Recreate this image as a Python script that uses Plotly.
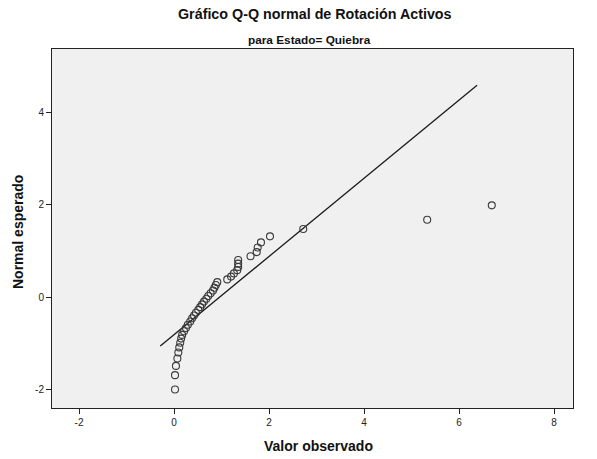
import plotly.graph_objects as go

observed = [0.02, 0.02, 0.04, 0.07, 0.09, 0.11, 0.13, 0.15, 0.17, 0.21,
            0.25, 0.29, 0.34, 0.38, 0.42, 0.46, 0.51, 0.55, 0.59, 0.63,
            0.68, 0.72, 0.77, 0.82, 0.85, 0.88, 0.91, 1.12, 1.20, 1.26,
            1.33, 1.35, 1.35, 1.35, 1.61, 1.74, 1.76, 1.83, 2.02, 2.72,
            5.33, 6.69]
# Expected normal values
expected = [-1.99, -1.68, -1.48, -1.32, -1.19, -1.08, -0.98, -0.89, -0.81, -0.73,
            -0.66, -0.59, -0.52, -0.45, -0.39, -0.33, -0.27, -0.21, -0.15, -0.09,
            -0.03, 0.03, 0.09, 0.15, 0.21, 0.27, 0.33, 0.39, 0.45, 0.52,
            0.59, 0.66, 0.73, 0.81, 0.89, 0.98, 1.08, 1.19, 1.32, 1.48,
            1.68, 1.99]
# Reference line: y = (x - mean) / sd, drawn over this x span
line_mean = 0.952
line_sd = 1.183
line_x = [-0.29, 6.38]
line_y = [(v - line_mean) / line_sd for v in line_x]

x_ticks = [-2, 0, 2, 4, 6, 8]
x_tick_text = ["-2", "0", "2", "4", "6", "8"]
y_ticks = [-2, 0, 2, 4]
y_tick_text = ["-2", "0", "2", "4"]

FONT = "Liberation Sans, Arial, sans-serif"

fig = go.Figure()
fig.add_trace(go.Scatter(x=line_x, y=line_y, mode="lines",
                         line=dict(color="#1a1a1a", width=1.3),
                         hoverinfo="skip", showlegend=False))
fig.add_trace(go.Scatter(x=observed, y=expected, mode="markers",
                         marker=dict(symbol="circle-open", size=7,
                                     color="#3a3a3a", line=dict(width=1.1)),
                         showlegend=False))

fig.update_layout(
    width=597, height=459,
    margin=dict(l=52, r=24, t=49, b=51),
    paper_bgcolor="white", plot_bgcolor="#F0F0F0",
    font=dict(family=FONT, size=10, color="#222"),
    xaxis=dict(range=[-2.57, 8.4], tickvals=x_ticks, ticktext=x_tick_text,
               ticks="outside", ticklen=5, tickcolor="#222", showgrid=False,
               zeroline=False, showline=True, linecolor="#222", linewidth=1,
               mirror=True, tickfont=dict(size=10, color="#222")),
    yaxis=dict(range=[-2.39, 5.37], tickvals=y_ticks, ticktext=y_tick_text,
               ticks="outside", ticklen=5, tickcolor="#222", showgrid=False,
               zeroline=False, showline=True, linecolor="#222", linewidth=1,
               mirror=True, tickfont=dict(size=10, color="#222")),
    annotations=[
        dict(text="<b>Gráfico Q-Q normal de Rotación Activos</b>", xref="paper", yref="paper",
             x=0.505, y=(408 - 14) / 359, xanchor="center", yanchor="middle",
             showarrow=False, font=dict(size=14.3, family=FONT, color="#111")),
        dict(text="<b>para Estado= Quiebra</b>", xref="paper", yref="paper",
             x=0.495, y=(408 - 40) / 359, xanchor="center", yanchor="middle",
             showarrow=False, font=dict(size=11.8, family="Liberation Sans Narrow, Arial Narrow, sans-serif", color="#111")),
        dict(text="<b>Valor observado</b>", xref="paper", yref="paper",
             x=0.512, y=(408 - 446) / 359, xanchor="center", yanchor="middle",
             showarrow=False, font=dict(size=14, family=FONT, color="#111")),
        dict(text="<b>Normal esperado</b>", xref="paper", yref="paper",
             x=(18 - 52) / 521, y=(408 - 232) / 359, xanchor="center", yanchor="middle",
             textangle=-90, showarrow=False, font=dict(size=14, family=FONT, color="#111")),
    ],
)

fig.write_html("out.html")
